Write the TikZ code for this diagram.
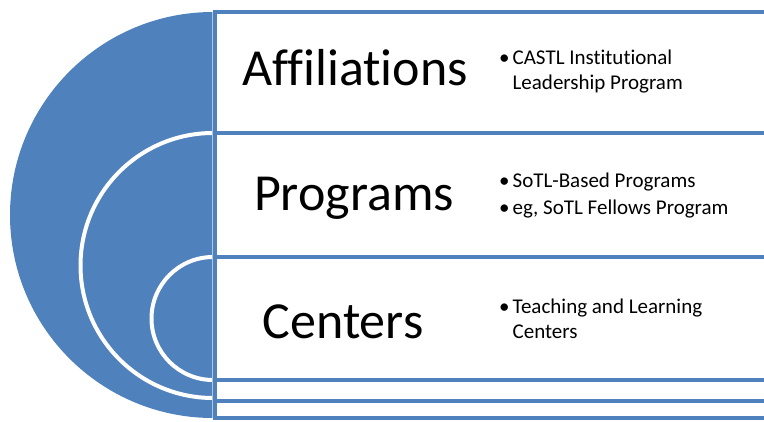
\documentclass[tikz,border=0pt]{standalone}
\usepackage{fontspec}
\setmainfont[Ligatures=CommonOff]{Carlito}
\definecolor{tgtblue}{HTML}{4F81BD}

\begin{document}
\begin{tikzpicture}[
        x=1pt, y=-1pt,
        ring/.style={draw=white, line width=4pt},
        level box/.style={draw=tgtblue, fill=white, line width=4pt},
        level title/.style={font=\fontsize{52}{52}\selectfont, anchor=base, inner sep=0pt},
        level notes/.style={font=\fontsize{21}{24.5}\selectfont, anchor=west, inner sep=0pt}]

    \useasboundingbox (0,0) rectangle (764,421);
    \clip (0,0) rectangle (764,421);

    % nested target
    \fill[tgtblue] (213,12) arc (270:90:203) -- cycle;
    \draw[ring] (213,133) arc (270:90:132.5);
    \draw[ring] (213,257) arc (270:90:61.5);
    \draw[tgtblue!45, line width=1pt] (212.5,12) -- (212.5,418);

    % one box per level, inner ones on top
    \draw[level box] (215,12) rectangle (800,418);
    \draw[level box] (215,133) rectangle (800,401);
    \draw[level box] (215,257) rectangle (800,380);

    \node[level title] (affil) at (355,85) {Affiliations};
    \node[level title] (progs) at (354,210) {Programs};
    \node[level title] (cents) at (343,338) {Centers};

    \node[level notes] (affil notes) at (499,72) {%
        \begin{tabular}{@{}l@{\hspace{3pt}}l@{}}
            \textbullet & CASTL Institutional\\
                        & Leadership Program
        \end{tabular}};
    \node[level notes] (progs notes) at (499,196) {%
        \begin{tabular}{@{}l@{\hspace{3pt}}l@{}}
            \textbullet & SoTL-Based Programs\\[3pt]
            \textbullet & eg, SoTL Fellows Program
        \end{tabular}};
    \node[level notes] (cents notes) at (499,321) {%
        \begin{tabular}{@{}l@{\hspace{3pt}}l@{}}
            \textbullet & Teaching and Learning\\
                        & Centers
        \end{tabular}};
\end{tikzpicture}
\end{document}
